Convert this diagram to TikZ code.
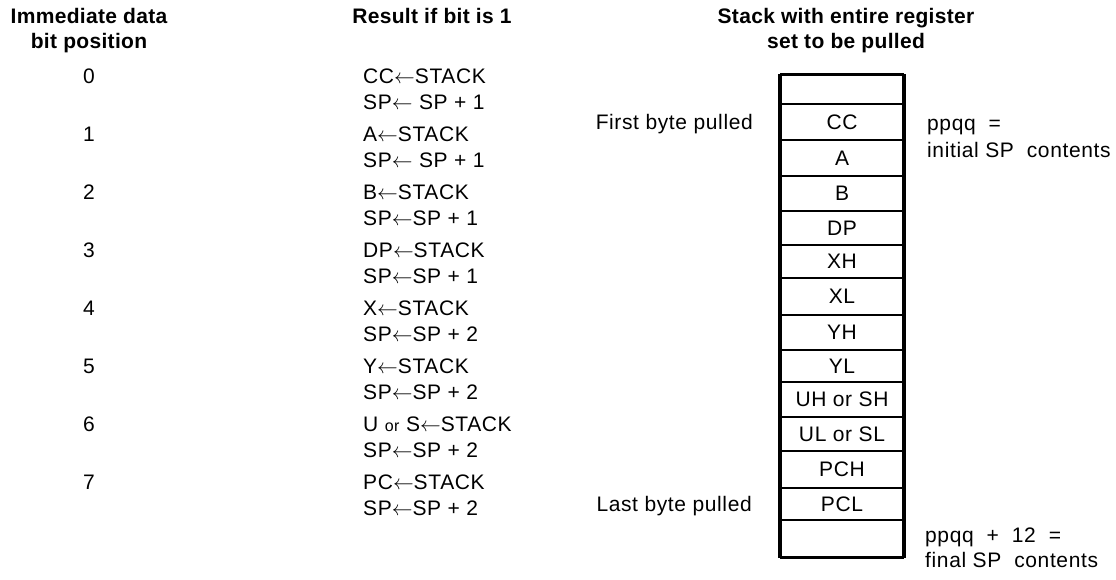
\documentclass[tikz,border=0pt]{standalone}
\usepackage{fontspec}
\setmainfont{Liberation Sans}[LetterSpace=3,BoldFeatures={LetterSpace=1.5}]
\newcommand{\myarr}{$\leftarrow$}
\newcommand{\smallor}{{\fontsize{16}{18}\selectfont or}}
\begin{document}
\begin{tikzpicture}[x=1pt,y=-1pt,
  txt/.style={font=\fontsize{21}{25}\selectfont, inner sep=0pt},
  hdr/.style={font=\fontsize{21}{25}\selectfont\bfseries, inner sep=0pt},
  cell/.style={draw, line width=1.8pt, minimum width=122pt, inner sep=0pt,
    font=\fontsize{21}{25}\selectfont},
  side/.style={line width=3.8pt},
  topbot/.style={line width=2.4pt}]
\fill[white] (0,0) rectangle (1116,579);
\useasboundingbox (0,0) rectangle (1116,579);
% headers
\node[hdr, anchor=base] (h1a) at (89,23) {Immediate data};
\node[hdr, anchor=base] (h1b) at (89,48) {bit position};
\node[hdr, anchor=base] (h2) at (432,23) {Result if bit is 1};
\node[hdr, anchor=base] (h3a) at (846,23) {Stack with entire register};
\node[hdr, anchor=base] (h3b) at (846,48) {set to be pulled};
% bit numbers
\node[txt, anchor=base] (b0) at (89,83) {0};
\node[txt, anchor=base] (b1) at (89,141) {1};
\node[txt, anchor=base] (b2) at (89,199) {2};
\node[txt, anchor=base] (b3) at (89,257) {3};
\node[txt, anchor=base] (b4) at (89,315) {4};
\node[txt, anchor=base] (b5) at (89,373) {5};
\node[txt, anchor=base] (b6) at (89,431) {6};
\node[txt, anchor=base] (b7) at (89,489) {7};
% results
\node[txt, anchor=base west] (r0a) at (363,83) {CC\myarr STACK};
\node[txt, anchor=base west] (r0b) at (363,109) {SP\myarr\ SP + 1};
\node[txt, anchor=base west] (r1a) at (363,141) {A\myarr STACK};
\node[txt, anchor=base west] (r1b) at (363,167) {SP\myarr\ SP + 1};
\node[txt, anchor=base west] (r2a) at (363,199) {B\myarr STACK};
\node[txt, anchor=base west] (r2b) at (363,225) {SP\myarr SP + 1};
\node[txt, anchor=base west] (r3a) at (363,257) {DP\myarr STACK};
\node[txt, anchor=base west] (r3b) at (363,283) {SP\myarr SP + 1};
\node[txt, anchor=base west] (r4a) at (363,315) {X\myarr STACK};
\node[txt, anchor=base west] (r4b) at (363,341) {SP\myarr SP + 2};
\node[txt, anchor=base west] (r5a) at (363,373) {Y\myarr STACK};
\node[txt, anchor=base west] (r5b) at (363,399) {SP\myarr SP + 2};
\node[txt, anchor=base west] (r6a) at (363,431) {U \smallor\ S\myarr STACK};
\node[txt, anchor=base west] (r6b) at (363,457) {SP\myarr SP + 2};
\node[txt, anchor=base west] (r7a) at (363,489) {PC\myarr STACK};
\node[txt, anchor=base west] (r7b) at (363,515) {SP\myarr SP + 2};
% stack cells
\node[cell, minimum height=29pt] (c0) at (842,89.5) {};
\node[cell, minimum height=36pt] (c1) at (842,122) {CC};
\node[cell, minimum height=36pt] (c2) at (842,158) {A};
\node[cell, minimum height=35pt] (c3) at (842,193.5) {B};
\node[cell, minimum height=34pt] (c4) at (842,228) {DP};
\node[cell, minimum height=33pt] (c5) at (842,261.5) {XH};
\node[cell, minimum height=37pt] (c6) at (842,296.5) {XL};
\node[cell, minimum height=35pt] (c7) at (842,332.5) {YH};
\node[cell, minimum height=32pt] (c8) at (842,366) {YL};
\node[cell, minimum height=35pt] (c9) at (842,399.5) {UH or SH};
\node[cell, minimum height=34pt] (c10) at (842,434) {UL or SL};
\node[cell, minimum height=37pt] (c11) at (842,469.5) {PCH};
\node[cell, minimum height=32pt] (c12) at (842,504) {PCL};
\node[cell, minimum height=37pt] (c13) at (842,538.5) {};
\draw[topbot] (c0.north west) -- (c0.north east);
\draw[topbot] (c13.south west) -- (c13.south east);
\draw[side] (c0.north west) -- (c13.south west);
\draw[side] (c0.north east) -- (c13.south east);
% side labels
\node[txt, anchor=base east] (first) at (753,129) {First byte pulled};
\node[txt, anchor=base east] (last) at (752,511) {Last byte pulled};
\node[txt, anchor=base west] (ppqq) at (927,130) {ppqq \ =};
\node[txt, anchor=base west] (init) at (927,157) {initial SP \ contents};
\node[txt, anchor=base west] (ppqq2) at (925,542) {ppqq \ + \ 12 \ =};
\node[txt, anchor=base west] (final) at (925,567) {final SP \ contents};
\end{tikzpicture}
\end{document}
